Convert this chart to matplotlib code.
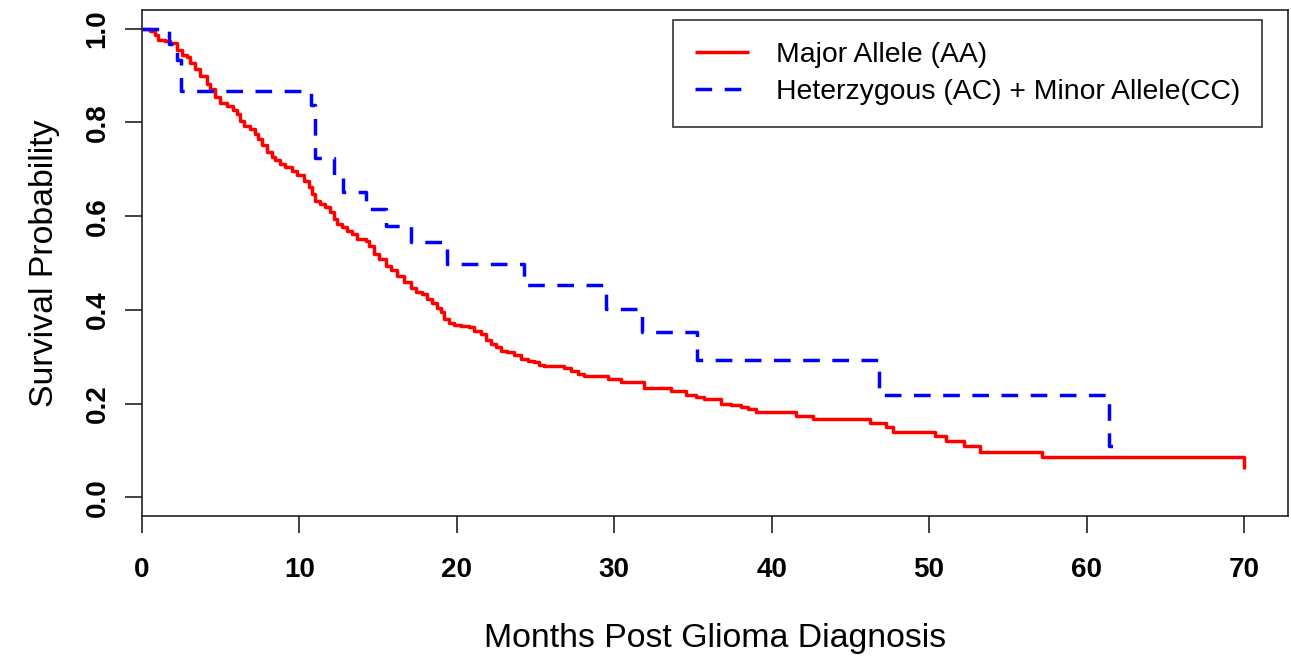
import matplotlib
matplotlib.use("Agg")
import matplotlib.pyplot as plt

plt.rcParams['font.family'] = ['Liberation Sans', 'DejaVu Sans']

# Kaplan-Meier step values (time in months, survival after the step)
aa_time = [0.0, 0.51, 0.83, 1.04, 1.46, 1.78, 2.21, 2.53, 2.85, 3.06, 3.37, 3.69, 4.12, 4.33,
           4.65, 4.97, 5.39, 5.81, 6.03, 6.24, 6.45, 6.87, 7.19, 7.40, 7.62, 7.94, 8.26, 8.47,
           8.78, 9.10, 9.53, 9.85, 10.27, 10.59, 10.80, 11.01, 11.33, 11.65, 11.97, 12.18,
           12.39, 12.71, 13.03, 13.35, 13.67, 14.20, 14.41, 14.72, 15.04, 15.47, 15.79, 16.21,
           16.63, 17.06, 17.38, 17.80, 18.12, 18.44, 18.76, 18.97, 19.18, 19.50, 19.82, 20.24,
           20.77, 21.09, 21.52, 21.83, 22.15, 22.47, 22.79, 23.21, 23.63, 24.06, 24.49, 24.91,
           25.23, 25.54, 26.82, 27.24, 27.67, 28.09, 29.58, 30.43, 31.90, 33.60, 34.56, 35.20,
           35.73, 36.79, 37.43, 38.06, 38.49, 39.00, 41.57, 42.60, 46.23, 47.29, 47.71, 50.36,
           51.10, 52.22, 53.26, 57.18, 70.00]
aa_surv = [1.000, 0.996, 0.986, 0.975, 0.973, 0.969, 0.955, 0.945, 0.940, 0.927, 0.915, 0.900,
           0.882, 0.872, 0.854, 0.841, 0.836, 0.827, 0.818, 0.804, 0.793, 0.786, 0.776, 0.765,
           0.751, 0.736, 0.726, 0.719, 0.712, 0.704, 0.696, 0.687, 0.676, 0.662, 0.647, 0.633,
           0.626, 0.619, 0.608, 0.594, 0.583, 0.576, 0.569, 0.562, 0.551, 0.548, 0.537, 0.519,
           0.509, 0.494, 0.484, 0.473, 0.459, 0.446, 0.438, 0.434, 0.423, 0.415, 0.405, 0.395,
           0.380, 0.373, 0.368, 0.365, 0.363, 0.355, 0.348, 0.336, 0.327, 0.320, 0.313, 0.309,
           0.303, 0.296, 0.291, 0.288, 0.283, 0.281, 0.276, 0.270, 0.263, 0.259, 0.252, 0.245,
           0.234, 0.227, 0.218, 0.215, 0.209, 0.200, 0.197, 0.192, 0.188, 0.181, 0.174, 0.168,
           0.158, 0.149, 0.140, 0.131, 0.121, 0.109, 0.097, 0.085, 0.061]

ac_time = [0.0, 1.72, 2.20, 2.45, 10.73, 10.96, 12.22, 12.78, 14.23, 15.50, 17.06, 19.40,
           24.25, 29.50, 31.74, 35.25, 46.80, 61.40, 62.40]
ac_surv = [1.000, 0.967, 0.933, 0.867, 0.838, 0.724, 0.687, 0.652, 0.615, 0.580, 0.544, 0.498,
           0.453, 0.402, 0.352, 0.294, 0.219, 0.109, 0.109]

x_ticks = [0, 10, 20, 30, 40, 50, 60, 70]
y_ticks = [0.0, 0.2, 0.4, 0.6, 0.8, 1.0]
labels = ["Major Allele (AA)", "Heterzygous (AC) + Minor Allele(CC)"]

fig = plt.figure(figsize=(12.91, 6.60), dpi=100)
ax = fig.add_axes([142/1291, 1 - 516/660, (1288-142)/1291, (516-10)/660])

ax.plot(aa_time, aa_surv, drawstyle='steps-post', color='#ff0000', lw=2.5,
        solid_capstyle='butt', solid_joinstyle='round', label=labels[0])
ax.plot(ac_time, ac_surv, drawstyle='steps-post', color='#0000ff', lw=2.5,
        dashes=(4.8, 3.6), dash_capstyle='butt', label=labels[1])

ax.set_xlim(0, 72.8)
ax.set_ylim(-0.04, 1.04)
ax.set_xticks(x_ticks)
ax.set_xticklabels([str(v) for v in x_ticks], fontweight='bold', fontsize=20)
ax.set_yticks(y_ticks)
ax.set_yticklabels([f"{v:.1f}" for v in y_ticks], fontweight='bold', fontsize=20,
                   rotation=90, va='center')
ax.tick_params(axis='both', direction='out', length=12.5, width=1.2, color='#222222')
ax.tick_params(axis='x', pad=17)
ax.tick_params(axis='y', pad=10)
for s in ax.spines.values():
    s.set_linewidth(1.2)
    s.set_color('#222222')

ax.set_xlabel("Months Post Glioma Diagnosis", fontsize=24.4, labelpad=29)
ax.set_ylabel("Survival Probability", fontsize=24.4, labelpad=18)

leg = ax.legend(loc='upper right', bbox_to_anchor=((1262-142)/(1288-142), 1 - 10/506),
                fontsize=20.4, frameon=True, fancybox=False, handlelength=1.9,
                handletextpad=0.95, borderpad=0.78, labelspacing=0.38, borderaxespad=0.0)
leg.get_frame().set_edgecolor('black')
leg.get_frame().set_linewidth(1.2)

fig.savefig("out.png", dpi=100)
